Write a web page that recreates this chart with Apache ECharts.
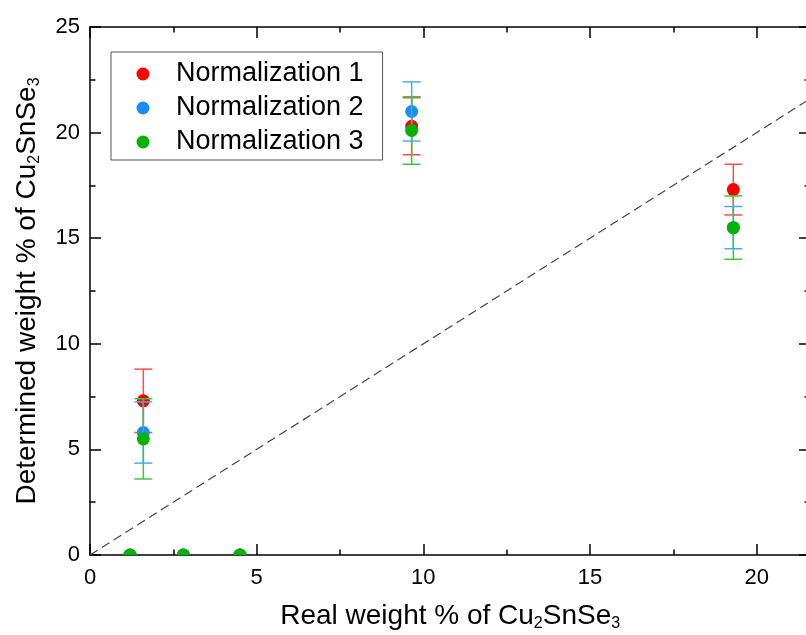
<!DOCTYPE html>
<html>
<head>
<meta charset="utf-8">
<script src="https://cdn.jsdelivr.net/npm/echarts@6/dist/echarts.min.js"></script>
<style>
  html, body { margin: 0; padding: 0; background: #fff; }
  #chart { width: 806px; height: 635px; }
</style>
</head>
<body>
<div id="chart"></div>
<script>
// sample positions (real weight %)
const sampleX = [1.6, 9.65, 19.3];
const zeroX = [1.2, 2.8, 4.5];
// determined weight % and error for each normalization
const norm1Y = [7.3, 20.3, 17.3];
const norm1Err = [1.5, 1.35, 1.2];
const norm2Y = [5.8, 21.0, 15.5];
const norm2Err = [1.45, 1.4, 1.0];
const norm3Y = [5.5, 20.1, 15.5];
const norm3Err = [1.9, 1.6, 1.5];
const zeroY = [0, 0, 0];
const refLine = [[0, 0], [25, 25]];
const seriesNames = ["Normalization 1", "Normalization 2", "Normalization 3"];

const FONT = "Liberation Sans";
const black = "#000";

function errSeries(name, ys, errs, dotColor, barColor) {
  const data = sampleX
    .map((x, i) => [x, ys[i], errs[i]])
    .concat(zeroX.map((x, i) => [x, zeroY[i], 0]));
  return {
    name: name,
    type: "custom",
    clip: true,
    data: data,
    encode: { x: 0, y: 1 },
    itemStyle: { color: dotColor },
    renderItem: function (params, api) {
      const x = api.value(0);
      const y = api.value(1);
      const e = api.value(2);
      const c = api.coord([x, y]);
      const kids = [];
      if (e > 0) {
        const t = api.coord([x, y + e]);
        const b = api.coord([x, y - e]);
        const ls = { stroke: barColor, lineWidth: 1.5 };
        kids.push({ type: "line", shape: { x1: c[0], y1: t[1], x2: c[0], y2: b[1] }, style: ls });
        kids.push({ type: "line", shape: { x1: c[0] - 9, y1: t[1], x2: c[0] + 9, y2: t[1] }, style: ls });
        kids.push({ type: "line", shape: { x1: c[0] - 9, y1: b[1], x2: c[0] + 9, y2: b[1] }, style: ls });
      }
      kids.push({ type: "circle", shape: { cx: c[0], cy: c[1], r: 6.5 }, style: { fill: dotColor } });
      return { type: "group", children: kids };
    },
  };
}

const tickStyle = { color: black, width: 1.5 };
const nameRich = {
  t: { fontFamily: FONT, fontSize: 28, lineHeight: 31, color: black },
  s: { fontFamily: FONT, fontSize: 16, lineHeight: 10, verticalAlign: "bottom", color: black },
};

function frameAxis(extra) {
  return Object.assign(
    {
      type: "value",
      min: 0,
      max: 25,
      interval: 5,
      axisLine: { onZero: false, lineStyle: tickStyle },
      axisTick: { inside: true, length: 11, lineStyle: tickStyle },
      minorTick: { show: true, splitNumber: 2, length: 5.5, lineStyle: tickStyle },
      splitLine: { show: false },
      axisLabel: { show: false },
    },
    extra
  );
}

const myChart = echarts.init(document.getElementById("chart"));
myChart.setOption({
  animation: false,
  backgroundColor: "#fff",
  grid: { left: 90, right: -117.33, top: 27, bottom: 80, outerBoundsMode: "none" },
  legend: {
    data: seriesNames.map((n) => ({ name: n, icon: "circle" })),
    orient: "vertical",
    left: 111,
    top: 52,
    padding: [8, 19, 4, 25.5],
    itemWidth: 56,
    itemHeight: 13,
    itemGap: 6,
    borderColor: "#555",
    borderWidth: 1,
    backgroundColor: "#fff",
    textStyle: { fontFamily: FONT, fontSize: 27, lineHeight: 28, color: black },
  },
  xAxis: [
    frameAxis({
      position: "bottom",
      axisLabel: { show: true, margin: 12, fontFamily: FONT, fontSize: 22, color: black },
      name: "{t|Real weight % of Cu}{s|2}{t|SnSe}{s|3}",
      nameLocation: "middle",
      nameGap: 46,
      nameTextStyle: { padding: [0, 113, 0, 0], rich: nameRich },
    }),
    frameAxis({ position: "top" }),
  ],
  yAxis: [
    frameAxis({
      position: "left",
      axisLabel: { show: true, margin: 10, fontFamily: FONT, fontSize: 22, color: black },
      name: "{t|Determined weight % of Cu}{s|2}{t|SnSe}{s|3}",
      nameLocation: "middle",
      nameGap: 47,
      nameTextStyle: { rich: nameRich },
    }),
    frameAxis({ position: "right", offset: -113.33 }),
  ],
  series: [
    {
      name: "y = x",
      type: "line",
      data: refLine,
      showSymbol: false,
      silent: true,
      lineStyle: { type: [9, 5], color: "#444", width: 1.2 },
    },
    errSeries(seriesNames[0], norm1Y, norm1Err, "#ff0000", "#ff4a4a"),
    errSeries(seriesNames[1], norm2Y, norm2Err, "#1a8cff", "#4aa8ff"),
    errSeries(seriesNames[2], norm3Y, norm3Err, "#00b400", "#3cc83c"),
  ],
});
</script>
</body>
</html>
